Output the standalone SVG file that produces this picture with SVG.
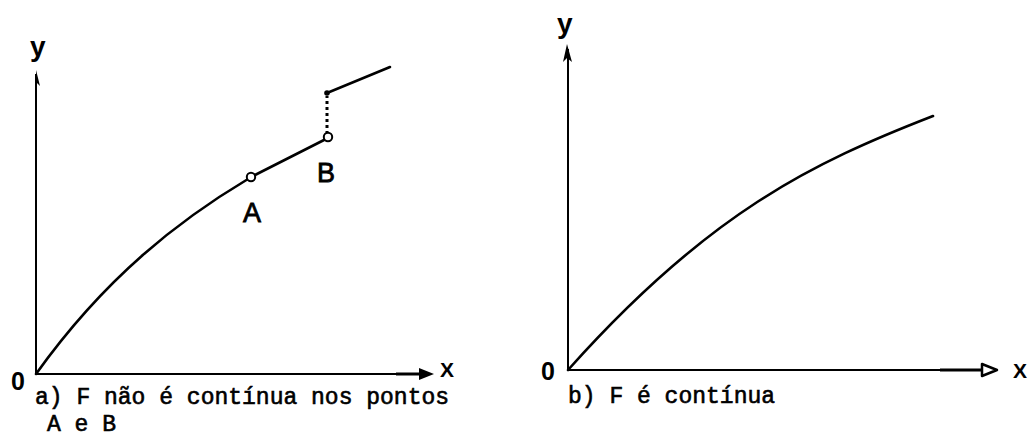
<svg xmlns="http://www.w3.org/2000/svg" width="1027" height="437" viewBox="0 0 1027 437">
<style>
.ax{fill:none;stroke:#000;stroke-width:2}
.cv{fill:none;stroke:#000;stroke-width:2.6;stroke-linecap:round}
.lab{font-family:"Liberation Sans",Arial,sans-serif;font-weight:bold;fill:#000}
.pt{font-family:"Liberation Sans",Arial,sans-serif;fill:#000;stroke:#000;stroke-width:0.8}
.cap{font-family:"Liberation Mono","Courier New",monospace;font-size:23px;fill:#000;stroke:#000;stroke-width:0.6}
</style>
<rect width="1027" height="437" fill="#fff"/>
<g id="plot-a">
  <g id="axes-a">
    <line class="ax" x1="36" y1="374" x2="36" y2="74"/>
    <path d="M36,70 L40,86 L36,82 Z" fill="#000"/>
    <line class="ax" x1="36" y1="374" x2="420" y2="374"/>
    <line x1="396" y1="374" x2="420" y2="374" stroke="#000" stroke-width="3"/>
    <path d="M434,374 L419,368 L419,380 Z" fill="#000"/>
    <text class="lab" x="30" y="56" font-size="28">y</text>
    <text class="lab" x="440" y="377" font-size="21">X</text>
    <text class="lab" x="11" y="390" font-size="25">0</text>
  </g>
  <g id="connectors-a">
    <path class="cv" d="M36,374 C106,276 181,219 248,179"/>
    <line class="cv" x1="255" y1="175" x2="324" y2="140"/>
    <line x1="327" y1="134" x2="327" y2="96" stroke="#000" stroke-width="3" stroke-dasharray="3,3"/>
    <line class="cv" x1="327" y1="93" x2="390" y2="67"/>
  </g>
  <g id="point-A">
    <circle cx="251" cy="177" r="4.2" fill="#fff" stroke="#000" stroke-width="2"/>
    <text class="pt" x="243" y="222" font-size="27">A</text>
  </g>
  <g id="point-B">
    <circle cx="328" cy="137" r="4.2" fill="#fff" stroke="#000" stroke-width="2"/>
    <circle cx="327" cy="93" r="2.8" fill="#000"/>
    <text class="pt" x="317" y="182" font-size="27">B</text>
  </g>
  <g id="caption-a">
    <text class="cap" x="35" y="404">a) F não é contínua nos pontos</text>
    <text class="cap" x="47" y="431">A e B</text>
  </g>
</g>
<g id="plot-b">
  <g id="axes-b">
    <line class="ax" x1="568" y1="370" x2="568" y2="49"/>
    <path d="M567,44 L572,62 L567,58 L563,62 Z" fill="#000"/>
    <line class="ax" x1="568" y1="370" x2="982" y2="370"/>
    <line x1="940" y1="370" x2="982" y2="370" stroke="#000" stroke-width="3"/>
    <path d="M997,370 L982,364 L982,376 Z" fill="#fff" stroke="#000" stroke-width="2.5" stroke-linejoin="round"/>
    <text class="lab" x="557" y="33" font-size="28">y</text>
    <text class="lab" x="1013" y="378" font-size="21">X</text>
    <text class="lab" x="541" y="380" font-size="25">0</text>
  </g>
  <g id="connectors-b">
    <path class="cv" d="M568,370 C708,213 812,163 933,116"/>
  </g>
  <g id="caption-b">
    <text class="cap" x="568" y="403">b) F é contínua</text>
  </g>
</g>
</svg>
